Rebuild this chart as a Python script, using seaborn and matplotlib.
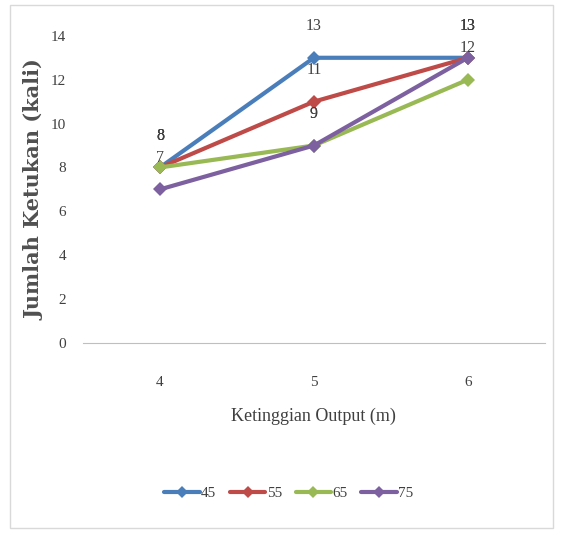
import pandas as pd
import matplotlib
matplotlib.use("Agg")
import matplotlib.pyplot as plt
import seaborn as sns
from matplotlib.patches import Rectangle

# data
heights = [4, 5, 6]
series_names = ["45", "55", "65", "75"]
s45 = [8, 13, 13]
s55 = [8, 11, 13]
s65 = [8, 9, 12]
s75 = [7, 9, 13]
colors = ["#4A7EBB", "#BE4B48", "#98B954", "#7D60A0"]

df = pd.DataFrame({
    "height": heights * 4,
    "hits": s45 + s55 + s65 + s75,
    "series": sum([[n] * 3 for n in series_names], []),
})

sns.set_style("white")
plt.rcParams["font.family"] = ["Liberation Serif", "DejaVu Serif"]

fig = plt.figure(figsize=(5.61, 5.35), dpi=100)
ax = fig.add_axes([0.148, 0.359, 0.823, 0.574])

sns.lineplot(data=df, x="height", y="hits", hue="series", palette=colors,
             marker="D", markersize=7, markeredgewidth=0, linewidth=3,
             ax=ax, legend=False)

# value labels above each point
for name, vals in zip(series_names, [s45, s55, s65, s75]):
    for x, v in zip(heights, vals):
        ax.annotate(str(v), (x, v), xytext=(0, 17), textcoords="offset points",
                    ha="center", va="bottom", fontsize=11.5, color="#404040")

ax.set_xlim(3.5, 6.5)
ax.set_ylim(0, 14)
ax.set_xticks(heights)
ax.set_yticks(range(0, 15, 2))
ax.tick_params(axis="both", length=0, labelsize=11, colors="#404040")
ax.tick_params(axis="x", pad=24)
ax.tick_params(axis="y", pad=12)
for side in ["top", "right", "left"]:
    ax.spines[side].set_visible(False)
ax.spines["bottom"].set_color("#BFBFBF")
ax.set_xlabel("Ketinggian Output (m)", fontsize=13, color="#404040", labelpad=13)
ax.set_ylabel("Jumlah Ketukan (kali)", fontsize=15, fontweight="bold",
              family="DejaVu Serif", color="#505050", labelpad=5)

handles = [plt.Line2D([], [], color=c, lw=3, marker="D", markersize=6,
                      markeredgewidth=0) for c in colors]
fig.legend(handles, series_names, loc="center", bbox_to_anchor=(0.515, 0.078),
           ncol=4, frameon=False, fontsize=11, handlelength=2.3,
           columnspacing=0.9, handletextpad=0.1, labelcolor="#404040")

fig.patches.append(Rectangle((0.018, 0.013), 0.968, 0.977, transform=fig.transFigure,
                             fill=False, edgecolor="#D9D9D9", lw=1))

fig.savefig("out.png", dpi=100)
